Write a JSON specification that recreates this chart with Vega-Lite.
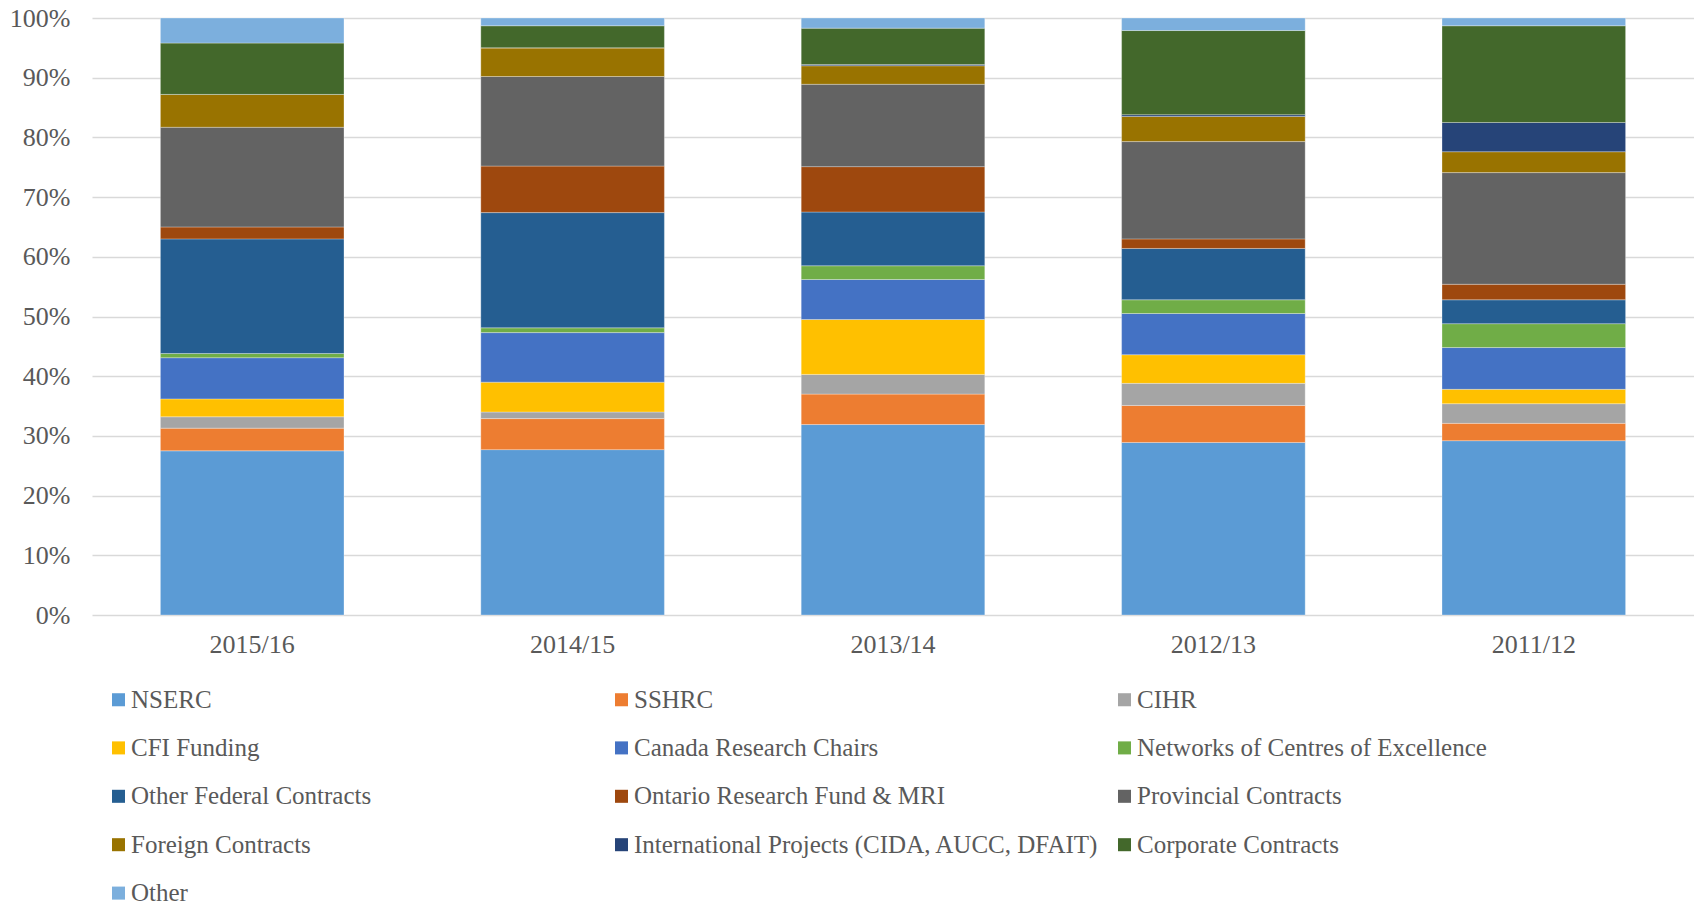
{
  "$schema": "https://vega.github.io/schema/vega-lite/v6.json",
  "autosize": "none",
  "width": 1602,
  "height": 597,
  "padding": {"left": 92, "top": 18, "right": 0, "bottom": 292},
  "background": "white",
  "config": {
    "view": {"stroke": null},
    "font": "Liberation Serif"
  },
  "data": {
    "values": [
      {"year": "2015/16", "source": "NSERC", "rank": 1, "v": 27.5},
      {"year": "2015/16", "source": "SSHRC", "rank": 2, "v": 3.8},
      {"year": "2015/16", "source": "CIHR", "rank": 3, "v": 1.9},
      {"year": "2015/16", "source": "CFI Funding", "rank": 4, "v": 3.0},
      {"year": "2015/16", "source": "Canada Research Chairs", "rank": 5, "v": 6.9},
      {"year": "2015/16", "source": "Networks of Centres of Excellence", "rank": 6, "v": 0.7},
      {"year": "2015/16", "source": "Other Federal Contracts", "rank": 7, "v": 19.2},
      {"year": "2015/16", "source": "Ontario Research Fund & MRI", "rank": 8, "v": 2.0},
      {"year": "2015/16", "source": "Provincial Contracts", "rank": 9, "v": 16.7},
      {"year": "2015/16", "source": "Foreign Contracts", "rank": 10, "v": 5.5},
      {"year": "2015/16", "source": "International Projects (CIDA, AUCC, DFAIT)", "rank": 11, "v": 0},
      {"year": "2015/16", "source": "Corporate Contracts", "rank": 12, "v": 8.6},
      {"year": "2015/16", "source": "Other", "rank": 13, "v": 4.2},

      {"year": "2014/15", "source": "NSERC", "rank": 1, "v": 27.7},
      {"year": "2014/15", "source": "SSHRC", "rank": 2, "v": 5.2},
      {"year": "2014/15", "source": "CIHR", "rank": 3, "v": 1.1},
      {"year": "2014/15", "source": "CFI Funding", "rank": 4, "v": 5.0},
      {"year": "2014/15", "source": "Canada Research Chairs", "rank": 5, "v": 8.3},
      {"year": "2014/15", "source": "Networks of Centres of Excellence", "rank": 6, "v": 0.8},
      {"year": "2014/15", "source": "Other Federal Contracts", "rank": 7, "v": 19.3},
      {"year": "2014/15", "source": "Ontario Research Fund & MRI", "rank": 8, "v": 7.8},
      {"year": "2014/15", "source": "Provincial Contracts", "rank": 9, "v": 15.0},
      {"year": "2014/15", "source": "Foreign Contracts", "rank": 10, "v": 4.8},
      {"year": "2014/15", "source": "International Projects (CIDA, AUCC, DFAIT)", "rank": 11, "v": 0},
      {"year": "2014/15", "source": "Corporate Contracts", "rank": 12, "v": 3.7},
      {"year": "2014/15", "source": "Other", "rank": 13, "v": 1.3},

      {"year": "2013/14", "source": "NSERC", "rank": 1, "v": 31.9},
      {"year": "2013/14", "source": "SSHRC", "rank": 2, "v": 5.1},
      {"year": "2013/14", "source": "CIHR", "rank": 3, "v": 3.3},
      {"year": "2013/14", "source": "CFI Funding", "rank": 4, "v": 9.2},
      {"year": "2013/14", "source": "Canada Research Chairs", "rank": 5, "v": 6.7},
      {"year": "2013/14", "source": "Networks of Centres of Excellence", "rank": 6, "v": 2.3},
      {"year": "2013/14", "source": "Other Federal Contracts", "rank": 7, "v": 9.0},
      {"year": "2013/14", "source": "Ontario Research Fund & MRI", "rank": 8, "v": 7.6},
      {"year": "2013/14", "source": "Provincial Contracts", "rank": 9, "v": 13.8},
      {"year": "2013/14", "source": "Foreign Contracts", "rank": 10, "v": 3.1},
      {"year": "2013/14", "source": "International Projects (CIDA, AUCC, DFAIT)", "rank": 11, "v": 0.2},
      {"year": "2013/14", "source": "Corporate Contracts", "rank": 12, "v": 6.1},
      {"year": "2013/14", "source": "Other", "rank": 13, "v": 1.7},

      {"year": "2012/13", "source": "NSERC", "rank": 1, "v": 28.9},
      {"year": "2012/13", "source": "SSHRC", "rank": 2, "v": 6.2},
      {"year": "2012/13", "source": "CIHR", "rank": 3, "v": 3.7},
      {"year": "2012/13", "source": "CFI Funding", "rank": 4, "v": 4.8},
      {"year": "2012/13", "source": "Canada Research Chairs", "rank": 5, "v": 6.9},
      {"year": "2012/13", "source": "Networks of Centres of Excellence", "rank": 6, "v": 2.3},
      {"year": "2012/13", "source": "Other Federal Contracts", "rank": 7, "v": 8.6},
      {"year": "2012/13", "source": "Ontario Research Fund & MRI", "rank": 8, "v": 1.6},
      {"year": "2012/13", "source": "Provincial Contracts", "rank": 9, "v": 16.3},
      {"year": "2012/13", "source": "Foreign Contracts", "rank": 10, "v": 4.2},
      {"year": "2012/13", "source": "International Projects (CIDA, AUCC, DFAIT)", "rank": 11, "v": 0.3},
      {"year": "2012/13", "source": "Corporate Contracts", "rank": 12, "v": 14.1},
      {"year": "2012/13", "source": "Other", "rank": 13, "v": 2.1},

      {"year": "2011/12", "source": "NSERC", "rank": 1, "v": 29.2},
      {"year": "2011/12", "source": "SSHRC", "rank": 2, "v": 2.9},
      {"year": "2011/12", "source": "CIHR", "rank": 3, "v": 3.3},
      {"year": "2011/12", "source": "CFI Funding", "rank": 4, "v": 2.4},
      {"year": "2011/12", "source": "Canada Research Chairs", "rank": 5, "v": 7.0},
      {"year": "2011/12", "source": "Networks of Centres of Excellence", "rank": 6, "v": 4.0},
      {"year": "2011/12", "source": "Other Federal Contracts", "rank": 7, "v": 4.0},
      {"year": "2011/12", "source": "Ontario Research Fund & MRI", "rank": 8, "v": 2.6},
      {"year": "2011/12", "source": "Provincial Contracts", "rank": 9, "v": 18.7},
      {"year": "2011/12", "source": "Foreign Contracts", "rank": 10, "v": 3.5},
      {"year": "2011/12", "source": "International Projects (CIDA, AUCC, DFAIT)", "rank": 11, "v": 4.9},
      {"year": "2011/12", "source": "Corporate Contracts", "rank": 12, "v": 16.2},
      {"year": "2011/12", "source": "Other", "rank": 13, "v": 1.3}
    ]
  },
  "mark": {"type": "bar", "stroke": "#ffffff", "strokeOpacity": 0.5, "strokeWidth": 0.6},
  "encoding": {
    "x": {
      "field": "year",
      "type": "nominal",
      "sort": ["2015/16", "2014/15", "2013/14", "2012/13", "2011/12"],
      "scale": {"paddingInner": 0.427, "paddingOuter": 0.2135},
      "axis": {
        "title": null,
        "labelAngle": 0,
        "labelFont": "Liberation Serif",
        "labelFontSize": 26,
        "labelColor": "#595959",
        "labelPadding": 16,
        "ticks": false,
        "domain": false
      }
    },
    "y": {
      "field": "v",
      "type": "quantitative",
      "stack": "normalize",
      "scale": {"domain": [0, 1]},
      "axis": {
        "title": null,
        "format": ".0%",
        "values": [0, 0.1, 0.2, 0.3, 0.4, 0.5, 0.6, 0.7, 0.8, 0.9, 1],
        "labelFont": "Liberation Serif",
        "labelFontSize": 26,
        "labelColor": "#595959",
        "labelPadding": 22,
        "ticks": false,
        "domain": false,
        "grid": true,
        "gridColor": "#d9d9d9",
        "gridWidth": 1.5
      }
    },
    "order": {"field": "rank", "type": "quantitative", "sort": "ascending"},
    "color": {
      "field": "source",
      "type": "nominal",
      "scale": {
        "domain": ["NSERC", "SSHRC", "CIHR", "CFI Funding", "Canada Research Chairs", "Networks of Centres of Excellence", "Other Federal Contracts", "Ontario Research Fund & MRI", "Provincial Contracts", "Foreign Contracts", "International Projects (CIDA, AUCC, DFAIT)", "Corporate Contracts", "Other"],
        "range": ["#5B9BD5", "#ED7D31", "#A5A5A5", "#FFC000", "#4472C4", "#70AD47", "#255E91", "#9E480E", "#636363", "#997300", "#264478", "#43682B", "#7CAFDD"]
      },
      "legend": {
        "title": null,
        "orient": "none",
        "legendX": 14,
        "legendY": 669,
        "direction": "horizontal",
        "columns": 3,
        "gridAlign": "all",
        "columnPadding": 13,
        "rowPadding": 22.4,
        "symbolType": "square",
        "symbolSize": 170,
        "symbolStrokeWidth": 0,
        "labelFont": "Liberation Serif",
        "labelFontSize": 25,
        "labelColor": "#595959",
        "labelOffset": 0,
        "labelLimit": 700
      }
    }
  }
}
